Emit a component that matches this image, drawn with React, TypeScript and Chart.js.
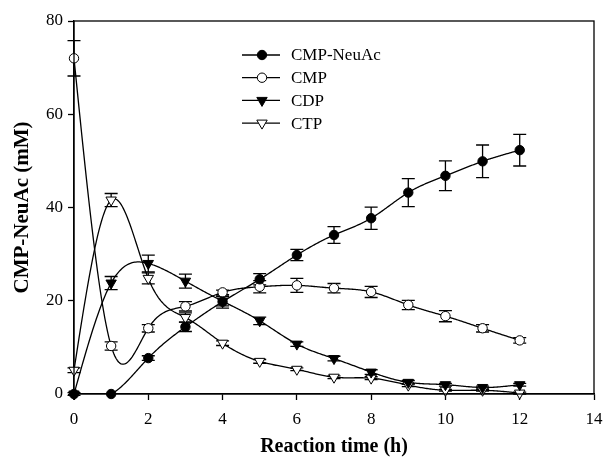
import React, { useEffect, useRef } from "react";
import { Chart, registerables } from "chart.js";

Chart.register(...registerables);

const times = [0, 1, 2, 3, 4, 5, 6, 7, 8, 9, 10, 11, 12];
const cmpNeuAc = [0, 0, 7.7, 14.4, 19.8, 24.6, 29.8, 34.1, 37.7, 43.2, 46.8, 49.9, 52.3];
const cmpNeuAcErr = [0, 0, 0.5, 1.0, 1.4, 1.2, 1.2, 1.8, 2.4, 3.0, 3.2, 3.5, 3.4];
const cmp = [72, 10.3, 14.1, 18.8, 21.8, 23.0, 23.3, 22.7, 21.9, 19.1, 16.7, 14.1, 11.5];
const cmpErr = [3.8, 0.9, 0.8, 1.0, 0.5, 1.3, 1.5, 1.0, 1.2, 1.0, 1.2, 0.8, 0.6];
const cdp = [0, 23.8, 28.0, 24.2, 19.9, 15.7, 10.7, 7.6, 4.7, 2.5, 2.0, 1.4, 2.0];
const cdpErr = [0.3, 1.4, 1.8, 1.5, 1.0, 0.8, 0.5, 0.5, 0.5, 0.4, 0.3, 0.3, 0.3];
const ctp = [5.1, 41.6, 24.8, 16.4, 10.9, 7.0, 5.3, 3.6, 3.4, 1.9, 0.8, 0.8, 0.2];
const ctpErr = [0.5, 1.4, 1.2, 1.0, 0.5, 0.4, 0.3, 0.3, 0.3, 0.3, 0.2, 0.2, 0.2];

const seriesNames = ["CMP-NeuAc", "CMP", "CDP", "CTP"];
const xTitle = "Reaction time (h)";
const yTitle = "CMP-NeuAc (mM)";

const FONT = "'Liberation Serif', 'Times New Roman', serif";

const errors = [cmpNeuAcErr, cmpErr, cdpErr, ctpErr];

// natural cubic spline second derivatives (rendering helper)
function splineM(xs: number[], ys: number[]): number[] {
  const n = xs.length;
  const a = new Array(n).fill(0), b = new Array(n).fill(0), c = new Array(n).fill(0), d = new Array(n).fill(0);
  b[0] = 1; b[n - 1] = 1;
  for (let i = 1; i < n - 1; i++) {
    const h0 = xs[i] - xs[i - 1], h1 = xs[i + 1] - xs[i];
    a[i] = h0; b[i] = 2 * (h0 + h1); c[i] = h1;
    d[i] = 6 * ((ys[i + 1] - ys[i]) / h1 - (ys[i] - ys[i - 1]) / h0);
  }
  for (let i = 1; i < n; i++) {
    const m = a[i] / b[i - 1];
    b[i] -= m * c[i - 1];
    d[i] -= m * d[i - 1];
  }
  const M = new Array(n).fill(0);
  M[n - 1] = d[n - 1] / b[n - 1];
  for (let i = n - 2; i >= 0; i--) M[i] = (d[i] - c[i] * M[i + 1]) / b[i];
  return M;
}

function drawMarker(ctx: CanvasRenderingContext2D, style: string, filled: boolean, x: number, y: number, r: number) {
  ctx.save();
  ctx.beginPath();
  if (style === "circle") {
    ctx.arc(x, y, r, 0, Math.PI * 2);
  } else {
    let rad = Math.PI;
    ctx.moveTo(x + Math.sin(rad) * r, y - Math.cos(rad) * r);
    rad += (2 * Math.PI) / 3;
    ctx.lineTo(x + Math.sin(rad) * r, y - Math.cos(rad) * r);
    rad += (2 * Math.PI) / 3;
    ctx.lineTo(x + Math.sin(rad) * r, y - Math.cos(rad) * r);
    ctx.closePath();
  }
  ctx.fillStyle = filled ? "#000" : "#fff";
  ctx.fill();
  ctx.strokeStyle = "#000";
  ctx.lineWidth = 1;
  ctx.stroke();
  ctx.restore();
}

const curvesPlugin = {
  id: "curvesAndErrors",
  beforeDatasetsDraw(chart: any) {
    const ctx = chart.ctx as CanvasRenderingContext2D;
    const xs = chart.scales.x;
    const ys = chart.scales.y;
    const area = chart.chartArea;
    ctx.save();
    ctx.beginPath();
    ctx.rect(area.left, area.top, area.right - area.left, area.bottom - area.top);
    ctx.clip();
    ctx.strokeStyle = "#000";
    ctx.lineWidth = 1.3;
    ctx.lineJoin = "round";
    chart.data.datasets.forEach((ds: any) => {
      const px = ds.data.map((p: any) => p.x);
      const py = ds.data.map((p: any) => p.y);
      const M = splineM(px, py);
      ctx.beginPath();
      ctx.moveTo(xs.getPixelForValue(px[0]), ys.getPixelForValue(py[0]));
      for (let i = 0; i < px.length - 1; i++) {
        const h = px[i + 1] - px[i];
        const steps = 30;
        for (let k = 1; k <= steps; k++) {
          const x = px[i] + (h * k) / steps;
          const A = (px[i + 1] - x) / h;
          const B = (x - px[i]) / h;
          const y = A * py[i] + B * py[i + 1] + ((A * A * A - A) * M[i] + (B * B * B - B) * M[i + 1]) * h * h / 6;
          ctx.lineTo(xs.getPixelForValue(x), ys.getPixelForValue(y));
        }
      }
      ctx.stroke();
    });
    ctx.restore();
    ctx.save();
    ctx.strokeStyle = "#000";
    ctx.lineWidth = 1.3;
    chart.data.datasets.forEach((ds: any, i: number) => {
      const err = errors[i];
      ds.data.forEach((p: any, j: number) => {
        const e = err[j];
        if (!e) return;
        const x = xs.getPixelForValue(p.x);
        const y1 = ys.getPixelForValue(p.y + e);
        const y2 = ys.getPixelForValue(p.y - e);
        ctx.beginPath();
        ctx.moveTo(x, y1);
        ctx.lineTo(x, y2);
        ctx.moveTo(x - 6.5, y1);
        ctx.lineTo(x + 6.5, y1);
        ctx.moveTo(x - 6.5, y2);
        ctx.lineTo(x + 6.5, y2);
        ctx.stroke();
      });
    });
    ctx.restore();
  },
};

const decorPlugin = {
  id: "decor",
  afterDraw(chart: any) {
    const ctx = chart.ctx as CanvasRenderingContext2D;
    const area = chart.chartArea;
    ctx.save();
    ctx.strokeStyle = "#000";
    ctx.lineWidth = 1.3;
    ctx.strokeRect(area.left, area.top, area.right - area.left, area.bottom - area.top);
    ctx.fillStyle = "#000";
    ctx.textAlign = "center";
    ctx.textBaseline = "middle";
    ctx.font = `bold 20px ${FONT}`;
    ctx.fillText(xTitle, (area.left + area.right) / 2, 447);
    ctx.save();
    ctx.font = `bold 21px ${FONT}`;
    ctx.translate(23, (area.top + area.bottom) / 2);
    ctx.rotate(-Math.PI / 2);
    ctx.fillText(yTitle, 0, 0);
    ctx.restore();
    const lx = area.left + 168;
    const ly0 = area.top + 34;
    ctx.font = `17px ${FONT}`;
    ctx.textAlign = "left";
    chart.data.datasets.forEach((ds: any, i: number) => {
      const y = ly0 + i * 22.7;
      ctx.beginPath();
      ctx.strokeStyle = "#000";
      ctx.lineWidth = 1.3;
      ctx.moveTo(lx, y);
      ctx.lineTo(lx + 38, y);
      ctx.stroke();
      const style = ds.pointStyle === "circle" ? "circle" : "tri";
      const filled = ds.pointBackgroundColor === "#000";
      drawMarker(ctx, style, filled, lx + 20, y, ds.pointRadius);
      ctx.fillStyle = "#000";
      ctx.fillText(ds.label, lx + 49, y + 1);
    });
    ctx.restore();
  },
};

export default function App() {
  const ref = useRef<HTMLCanvasElement | null>(null);
  useEffect(() => {
    if (!ref.current) return;
    const mk = (label: string, vals: number[], style: string, filled: boolean) => ({
      label,
      data: times.map((t, i) => ({ x: t, y: vals[i] })),
      borderColor: "#000",
      borderWidth: 1.3,
      showLine: false,
      pointStyle: style,
      pointRotation: style === "triangle" ? 180 : 0,
      pointRadius: style === "triangle" ? 6 : 4.7,
      pointHoverRadius: style === "triangle" ? 6 : 4.7,
      pointBackgroundColor: filled ? "#000" : "#fff",
      pointBorderColor: "#000",
      pointBorderWidth: 1,
      fill: false,
      clip: false as any,
    });
    const chart = new Chart(ref.current, {
      type: "line",
      data: {
        datasets: [
          mk(seriesNames[0], cmpNeuAc, "circle", true),
          mk(seriesNames[1], cmp, "circle", false),
          mk(seriesNames[2], cdp, "triangle", true),
          mk(seriesNames[3], ctp, "triangle", false),
        ] as any,
      },
      options: {
        animation: false,
        responsive: false,
        devicePixelRatio: 1,
        layout: { padding: { left: 0, right: 10, top: 21, bottom: 0 } },
        plugins: { legend: { display: false }, tooltip: { enabled: false } },
        scales: {
          x: {
            type: "linear",
            min: 0,
            max: 14,
            afterFit: (s: any) => { s.height = 69; s.paddingLeft = 0; s.paddingRight = 0; },
            ticks: { stepSize: 2, color: "#000", font: { family: FONT, size: 17 }, padding: 9, maxRotation: 0 },
            grid: { drawOnChartArea: false, tickLength: 6, color: "#000", tickWidth: 1.3 },
            border: { display: true, color: "#000", width: 1.3 },
          },
          y: {
            min: 0,
            max: 80,
            afterFit: (s: any) => { s.width = 74; s.paddingTop = 0; s.paddingBottom = 0; },
            ticks: { stepSize: 20, color: "#000", font: { family: FONT, size: 17 }, padding: 5 },
            grid: { drawOnChartArea: false, tickLength: 6, color: "#000", tickWidth: 1.3 },
            border: { display: true, color: "#000", width: 1.3 },
          },
        },
      },
      plugins: [curvesPlugin, decorPlugin],
    });
    return () => chart.destroy();
  }, []);
  return (
    <div style={{ position: "absolute", left: 0, top: 0, width: 604, height: 463, background: "#fff" }}>
      <canvas ref={ref} width={604} height={463} style={{ width: 604, height: 463 }} />
    </div>
  );
}
